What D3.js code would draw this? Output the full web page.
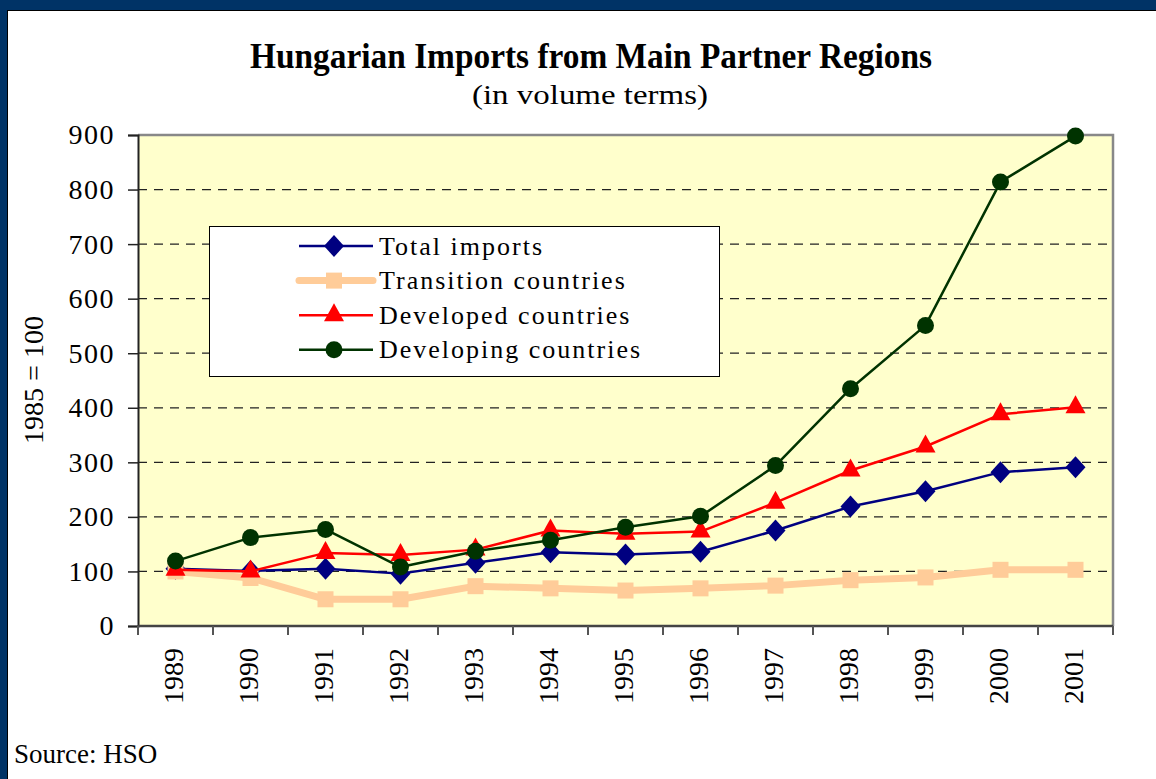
<!DOCTYPE html>
<html>
<head>
<meta charset="utf-8">
<script src="https://cdn.jsdelivr.net/npm/d3@7"></script>
<style>
  body { margin: 0; background: #fff; }
  svg { display: block; }
  text { font-family: "Liberation Serif", "Times New Roman", serif; fill: #000; }
</style>
</head>
<body>
<div id="chart"></div>
<script>
// data (1985 = 100)
var years = ["1989", "1990", "1991", "1992", "1993", "1994", "1995",
             "1996", "1997", "1998", "1999", "2000", "2001"];
var totalImports = [105, 101, 105, 96, 116, 135, 131, 136, 175, 219, 247, 282, 291];
var transitionCountries = [100, 88, 49, 49, 73, 69, 65, 69, 74, 84, 89, 103, 103];
var developedCountries = [103, 100, 134, 130, 140, 175, 169, 173, 226, 285, 329, 388, 401];
var developingCountries = [119, 162, 177, 108, 137, 157, 181, 201, 294, 435, 551, 814, 898];
var yTicks = [0, 100, 200, 300, 400, 500, 600, 700, 800, 900];

var series = [
  {name: "Total imports", values: totalImports, color: "#000080", width: 2.5, marker: "diamond"},
  {name: "Transition countries", values: transitionCountries, color: "#FFCC99", width: 7, marker: "square"},
  {name: "Developed countries", values: developedCountries, color: "#FF0000", width: 2.5, marker: "triangle"},
  {name: "Developing countries", values: developingCountries, color: "#003300", width: 2.5, marker: "circle"}
];

var W = 1156, H = 779;
var plot = {left: 138, right: 1113, top: 135, bottom: 626};

var svg = d3.select("#chart").append("svg")
  .attr("width", W)
  .attr("height", H);

// blue frame on top and left
svg.append("rect").attr("x", 0).attr("y", 0).attr("width", W).attr("height", 10).attr("fill", "#003366");
svg.append("rect").attr("x", 0).attr("y", 0).attr("width", 7).attr("height", H).attr("fill", "#003366");
svg.append("line").attr("x1", 7).attr("x2", W).attr("y1", 10.5).attr("y2", 10.5).attr("stroke", "#000").attr("stroke-width", 1);
svg.append("line").attr("x1", 7.5).attr("x2", 7.5).attr("y1", 10).attr("y2", H).attr("stroke", "#000").attr("stroke-width", 1);

// scales
var x = d3.scaleBand()
  .domain(years)
  .range([plot.left, plot.right])
  .padding(0);
var y = d3.scaleLinear()
  .domain([0, 900])
  .range([plot.bottom, plot.top]);

// plot background
svg.append("rect")
  .attr("x", plot.left).attr("y", plot.top)
  .attr("width", plot.right - plot.left).attr("height", plot.bottom - plot.top)
  .attr("fill", "#FFFFCC");

// dashed grid lines
svg.append("g").selectAll("line")
  .data(yTicks.filter(function(d) { return d > 0 && d < 900; }))
  .enter().append("line")
    .attr("x1", plot.left).attr("x2", plot.right)
    .attr("y1", function(d) { return y(d); })
    .attr("y2", function(d) { return y(d); })
    .attr("stroke", "#222")
    .attr("stroke-width", 1.3)
    .attr("stroke-dasharray", "9,7");

// grey top and right edges
svg.append("path")
  .attr("d", "M" + plot.left + "," + plot.top + "H" + plot.right + "V" + plot.bottom)
  .attr("fill", "none").attr("stroke", "#888").attr("stroke-width", 2.5);

// y axis
var yAxis = svg.append("g")
  .attr("transform", "translate(" + plot.left + ",0)")
  .call(d3.axisLeft(y).tickValues(yTicks).tickSize(10).tickPadding(13));
yAxis.select(".domain").attr("stroke", "#222").attr("stroke-width", 2);
yAxis.selectAll(".tick line").attr("stroke", "#222").attr("stroke-width", 1.5);
yAxis.selectAll(".tick text")
  .style("font-family", "'Liberation Serif', serif")
  .style("font-size", "28px")
  .style("letter-spacing", "1.5px")
  .attr("fill", "#000");

// x axis (ticks on band edges)
var xAxisG = svg.append("g")
  .attr("transform", "translate(0," + plot.bottom + ")");
xAxisG.append("line")
  .attr("x1", plot.left).attr("x2", plot.right)
  .attr("stroke", "#444").attr("stroke-width", 2.5);
var edges = years.map(function(d) { return x(d); }).concat([plot.right]);
xAxisG.selectAll(".edge").data(edges)
  .enter().append("line")
    .attr("class", "edge")
    .attr("x1", function(d) { return d; }).attr("x2", function(d) { return d; })
    .attr("y1", 0).attr("y2", 9)
    .attr("stroke", "#555").attr("stroke-width", 2);
xAxisG.selectAll("text").data(years)
  .enter().append("text")
    .attr("transform", function(d) {
      return "translate(" + (x(d) + x.bandwidth() / 2 - 2) + ",22) rotate(-90)";
    })
    .attr("text-anchor", "end")
    .attr("dy", "0.35em")
    .style("font-size", "28px")
    .text(function(d) { return d; });

// markers
function drawMarker(g, type, color) {
  if (type === "diamond") {
    g.append("path").attr("d", "M0,-11L10,0L0,11L-10,0Z").attr("fill", color);
  } else if (type === "square") {
    g.append("rect").attr("x", -8).attr("y", -8).attr("width", 16).attr("height", 16).attr("fill", color);
  } else if (type === "triangle") {
    g.append("path").attr("d", "M0,-12L10,6L-10,6Z").attr("fill", color);
  } else {
    g.append("circle").attr("r", 8.5).attr("fill", color);
  }
}

var line = d3.line()
  .x(function(d, i) { return x(years[i]) + x.bandwidth() / 2; })
  .y(function(d) { return y(d); });

series.forEach(function(s) {
  var g = svg.append("g");
  g.append("path")
    .datum(s.values)
    .attr("d", line)
    .attr("fill", "none")
    .attr("stroke", s.color)
    .attr("stroke-width", s.width)
    .attr("stroke-linejoin", "round");
  s.values.forEach(function(v, i) {
    var m = g.append("g")
      .attr("transform", "translate(" + (x(years[i]) + x.bandwidth() / 2) + "," + y(v) + ")");
    drawMarker(m, s.marker, s.color);
  });
});

// legend
var legend = svg.append("g");
legend.append("rect")
  .attr("x", 209.5).attr("y", 226.5).attr("width", 510).attr("height", 150)
  .attr("fill", "#fff").attr("stroke", "#000").attr("stroke-width", 1);
series.forEach(function(s, i) {
  var cy = 246 + i * 34.6;
  var row = legend.append("g");
  row.append("line")
    .attr("x1", 299).attr("x2", 373).attr("y1", cy).attr("y2", cy)
    .attr("stroke", s.color).attr("stroke-width", s.width)
    .attr("stroke-linecap", s.marker === "square" ? "round" : "butt");
  drawMarker(row.append("g").attr("transform", "translate(334," + cy + ")"), s.marker, s.color);
  row.append("text")
    .attr("x", 379).attr("y", cy).attr("dy", "0.33em")
    .style("font-size", "26px")
    .style("letter-spacing", "2px")
    .text(s.name);
});

// titles
svg.append("text")
  .attr("x", 591).attr("y", 68)
  .attr("text-anchor", "middle")
  .attr("textLength", 682).attr("lengthAdjust", "spacingAndGlyphs")
  .style("font-size", "36px").style("font-weight", "bold")
  .text("Hungarian Imports from Main Partner Regions");
svg.append("text")
  .attr("x", 590).attr("y", 104)
  .attr("text-anchor", "middle")
  .attr("textLength", 236).attr("lengthAdjust", "spacingAndGlyphs")
  .style("font-size", "27px")
  .text("(in volume terms)");

// y axis title
svg.append("text")
  .attr("transform", "translate(33,380) rotate(-90)")
  .attr("text-anchor", "middle")
  .attr("dy", "0.35em")
  .style("font-size", "28px")
  .text("1985 = 100");

// source note
svg.append("text")
  .attr("x", 14).attr("y", 763)
  .style("font-size", "27px")
  .text("Source: HSO");
</script>
</body>
</html>
